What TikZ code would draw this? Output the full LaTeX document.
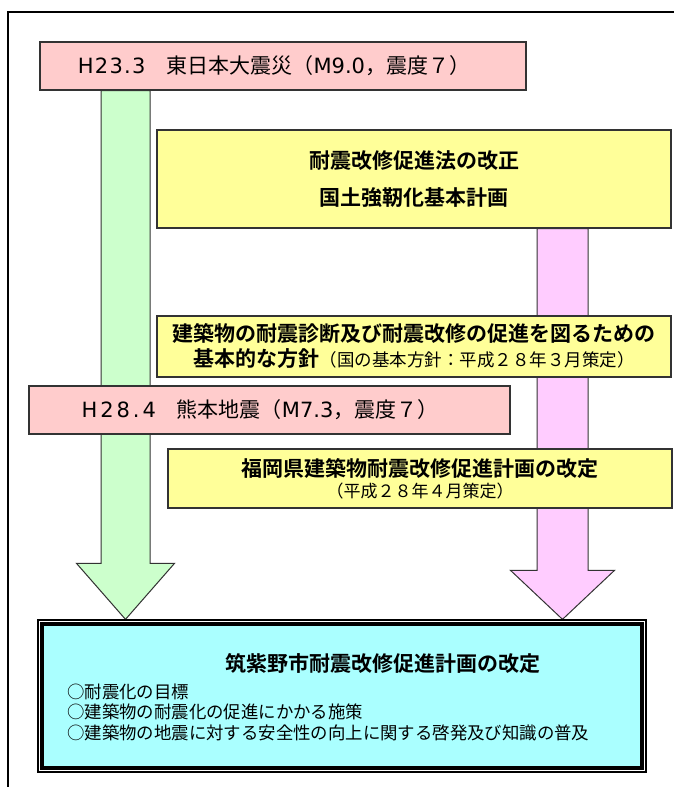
\documentclass[tikz,border=0pt]{standalone}
\usepackage{fontspec}
\setmainfont{Noto Sans CJK JP}[BoldFont={Noto Sans CJK JP Bold}]
\newfontfamily\latinfont{DejaVu Sans}
\usetikzlibrary{calc,backgrounds}
\definecolor{quakepink}{HTML}{FFCCCC}
\definecolor{plangreen}{HTML}{CCFFCC}
\definecolor{planyellow}{HTML}{FFFF99}
\definecolor{planlilac}{HTML}{FFCCFF}
\definecolor{citycyan}{HTML}{AAFFFF}
\definecolor{boxline}{HTML}{333333}
\newcommand{\wideltr}[2]{{\latinfont\addfontfeature{LetterSpace=#1}#2}}
\tikzset{
  quakebox/.style={draw=boxline, line width=1.2pt, fill=quakepink, inner sep=0pt,
    font=\fontsize{21}{25}\selectfont},
  planbox/.style={draw=boxline, line width=1.2pt, fill=planyellow, inner sep=0pt,
    align=center, font=\bfseries\fontsize{21}{25}\selectfont},
  blockarrow/.style={draw=boxline, line width=1pt, line join=miter}
}
\begin{document}
\begin{tikzpicture}[x=1pt,y=-1pt]
  \useasboundingbox (0,0) rectangle (674,787);
  \draw [line width=1.2pt] (674,12) -- (8,12) -- (8,787);

  % earthquakes
  \node [quakebox, minimum width=486, minimum height=48] (eq1) at (283,66)
    {\wideltr{6}{H23.3}\quad 東日本大震災（\wideltr{0}{M9.0}，震度７）\hspace*{18pt}};
  \node [quakebox, minimum width=481, minimum height=48] (eq2) at (269.5,410)
    {\wideltr{14}{H28.4}\quad 熊本地震（\wideltr{0}{M7.3}，震度７）\hspace*{19pt}};

  % national and prefectural plans
  \node [planbox, minimum width=514, minimum height=98] (law) at (414,179)
    {耐震改修促進法の改正\\[12pt]国土強靭化基本計画};
  \node [planbox, minimum width=514, minimum height=61] (policy) at (414,346.5)
    {建築物の耐震診断及び耐震改修の促進を図るための\\
     基本的な方針{\mdseries\fontsize{17.5}{20}\selectfont（国の基本方針：平成２８年３月策定）}};
  \node [planbox, minimum width=504, minimum height=59] (pref) at (420,478.5)
    {福岡県建築物耐震改修促進計画の改定\\[-4pt]
     {\mdseries\fontsize{17}{19}\selectfont（平成２８年４月策定）}};

  % city plan
  \node [draw=black, line width=1.3pt, fill=white, inner sep=0pt,
    minimum width=608, minimum height=152] (main) at (342,696) {};
  \draw [line width=4pt, fill=citycyan] ($(main.north west)+(4.5,4.5)$)
    rectangle ($(main.south east)+(-4.5,-4.5)$);
  \node [font=\bfseries\fontsize{21}{25}\selectfont] (maintitle) at (383,663)
    {筑紫野市耐震改修促進計画の改定};
  \node [anchor=north west, align=left, inner sep=0pt,
    font=\fontsize{17.4}{20.5}\selectfont] (mainlist) at (67,683.5)
    {○耐震化の目標\\○建築物の耐震化の促進にかかる施策\\
     ○建築物の地震に対する安全性の向上に関する啓発及び知識の普及};

  % block arrows behind the boxes
  \begin{scope}[on background layer]
    \coordinate (gtop) at (125.5,0 |- eq1.south);
    \coordinate (gtip) at (125.5,0 |- main.north);
    \draw [blockarrow, fill=plangreen] ($(gtop)+(-24.5,0)$) -- ($(gtip)+(-24.5,-56)$)
      -- ($(gtip)+(-49,-56)$) -- (gtip) -- ($(gtip)+(49,-56)$)
      -- ($(gtip)+(24.5,-56)$) -- ($(gtop)+(24.5,0)$) -- cycle;
    \coordinate (ptop) at (562.5,0 |- law.south);
    \coordinate (ptip) at (562.5,0 |- main.north);
    \draw [blockarrow, fill=planlilac] ($(ptop)+(-25.5,0)$) -- ($(ptip)+(-25.5,-49)$)
      -- ($(ptip)+(-52,-49)$) -- (ptip) -- ($(ptip)+(52,-49)$)
      -- ($(ptip)+(25.5,-49)$) -- ($(ptop)+(25.5,0)$) -- cycle;
  \end{scope}
\end{tikzpicture}
\end{document}
